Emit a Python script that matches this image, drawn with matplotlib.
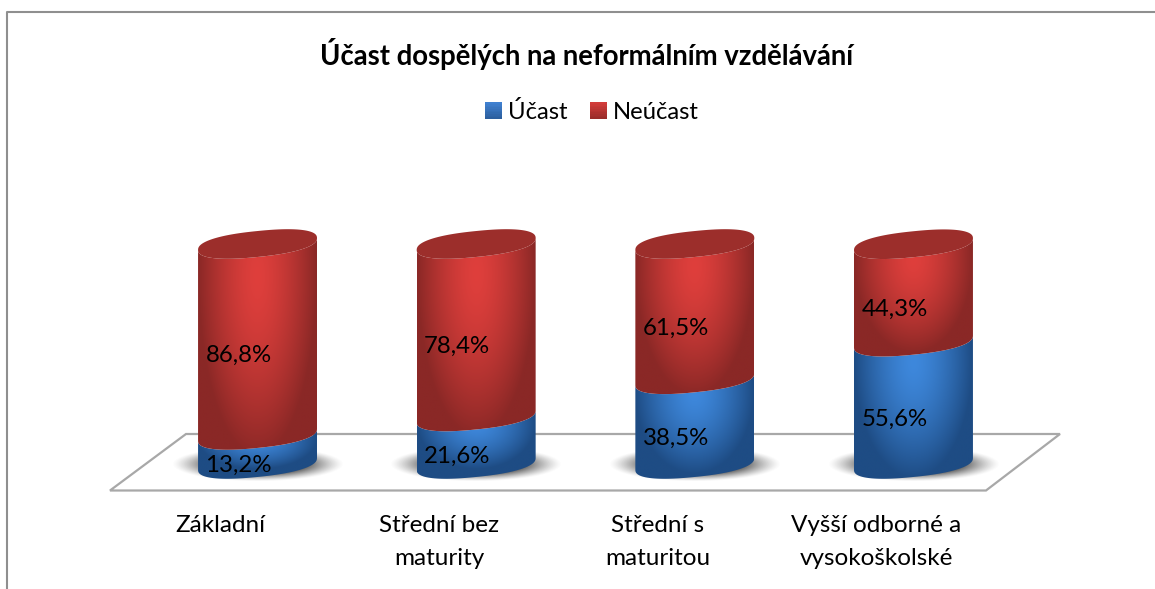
import numpy as np
import matplotlib
matplotlib.use('Agg')
import matplotlib.pyplot as plt
from matplotlib.lines import Line2D
from matplotlib.patches import Patch, Polygon, Rectangle
from matplotlib.legend_handler import HandlerBase

plt.rcParams['font.family'] = ['Lato', 'DejaVu Sans']

categories = ['Základní', 'Střední bez\nmaturity', 'Střední s\nmaturitou', 'Vyšší odborné a\nvysokoškolské']
ucast = [13.2, 21.6, 38.5, 55.6]
neucast = [86.8, 78.4, 61.5, 44.3]
series_names = ['Účast', 'Neúčast']
title = 'Účast dospělých na neformálním vzdělávání'

W, H = 1155, 589
RED = ('#DF3F3C', '#8A2826')
BLUE = ('#3E88DC', '#1E4C84')

fig = plt.figure(figsize=(W / 100, H / 100), dpi=100, facecolor='white')
# axes runs from value 0 to 100 and over the four category slots
ax = fig.add_axes([148.2 / W, 1 - 464 / H, 874.6 / W, 220 / H])
ax.set_xlim(-0.5, 3.5)
ax.set_ylim(0, 100)
ax.patch.set_visible(False)
for s in ax.spines.values():
    s.set_visible(False)

half_w = 0.272   # cylinder half width in category units
ell_b = 5.9      # ellipse height in value units
ell_s = 2.7      # tilt of the ellipse in value units


def fpx(x, y):
    return x / W, 1 - y / H


def rgb(c):
    return np.array(matplotlib.colors.to_rgb(c))


def ellipse(cx, level, t):
    # slightly squared off so the ends stay round after the tilt
    c, s = np.cos(t), np.sin(t)
    x = np.sign(c) * np.abs(c) ** 0.85
    y = np.sign(s) * np.abs(s) ** 0.85
    return cx + half_w * x, level + ell_s * x + ell_b * y


def lower_arc(cx, level, n=60):
    return ellipse(cx, level, np.linspace(np.pi, 2 * np.pi, n))


def shaded(cx, y0, y1, colors, outline):
    lo, hi = y0 - 12, y1 + 12
    xs = np.linspace(-1, 1, 160)
    ys = np.linspace(hi, lo, 300)
    u, yy = np.meshgrid(xs, ys)
    span = max(y1 - y0, 14)
    v = (yy - (y1 - 0.17 * span)) / (span * 0.95)
    d = np.clip(np.sqrt(u**2 + v**2), 0, 1) ** 1.5
    a, b = rgb(colors[0]), rgb(colors[1])
    img = a + (b - a) * d[..., None]
    im = ax.imshow(img, extent=(cx - half_w, cx + half_w, lo, hi), aspect='auto',
                   interpolation='bilinear', zorder=3)
    poly = Polygon(outline, closed=True, transform=ax.transData, fc='none', ec='none', clip_on=False)
    ax.add_patch(poly)
    # images fall back to the axes box, the cylinder has to stick out of it
    im.set_clip_box(fig.bbox)
    im.set_clip_path(poly)


def shadow(cx):
    xs = np.linspace(-1.35, 1.35, 200)
    ys = np.linspace(1.35, -1.35, 100)
    u, v = np.meshgrid(xs, ys)
    r = np.sqrt(u**2 + v**2)
    img = np.zeros(r.shape + (4,))
    img[..., :3] = 0.28
    img[..., 3] = 0.8 * np.clip((1.12 - r) / 0.45, 0, 1) ** 1.3
    ax.imshow(img, extent=(cx - 0.475, cx + 0.475, -9.5, 9.5), aspect='auto',
              interpolation='bilinear', zorder=2, clip_on=False)


# floor and frame
floor = Polygon([fpx(110, 490.5), fpx(186, 434), fpx(1060, 434), fpx(986, 490.5)], closed=True,
                transform=fig.transFigure, fc='white', ec='#a8a8a8', lw=1.6, zorder=1)
ax.add_patch(floor)
floor.set_clip_on(False)
fig.add_artist(Line2D([fpx(7, 0)[0], fpx(7, 0)[0], 1], [0, fpx(0, 11.5)[1], fpx(0, 11.5)[1]],
                      color='#8f8f8f', lw=1.5))

for i, (low, high) in enumerate(zip(ucast, neucast)):
    shadow(i)
    for y0, y1, cols in [(0, low, BLUE), (low, low + high, RED)]:
        xa, ya = lower_arc(i, y0)
        xb, yb = lower_arc(i, y1)
        shaded(i, y0, y1, cols, np.column_stack([np.r_[xa, xb[::-1]], np.r_[ya, yb[::-1]]]))
        ax.text(i - 0.087, (y0 + y1) / 2 - 7.4, f'{y1 - y0:.1f}%'.replace('.', ','),
                ha='center', va='center', fontsize=17.3, color='black', zorder=5)
    # top of the cylinder
    top = low + high
    cap = Polygon(np.column_stack(ellipse(i, top, np.linspace(0, 2 * np.pi, 160))),
                  closed=True, fc='#9C2E2B', ec='none', zorder=4, clip_on=False)
    ax.add_patch(cap)

ax.set_xticks(np.arange(4) - 0.169)
ax.set_xticklabels(categories, fontsize=17.5, linespacing=1.68, color='black')
ax.set_yticks([])
ax.tick_params(axis='x', length=0, pad=37)

fig.text(*fpx(587, 54), title, ha='center', va='center', fontsize=19.8, fontweight='bold', color='black')


class GradSwatch(HandlerBase):
    def create_artists(self, legend, orig, xd, yd, width, height, fontsize, trans):
        a, b = rgb(orig.get_facecolor()), rgb(orig.get_edgecolor())
        n = 10
        return [Rectangle((-xd, -yd + height * k / n), width, height / n + 0.3,
                          fc=a + (b - a) * (1 - k / (n - 1)), ec='none', transform=trans)
                for k in range(n)]


handles = [Patch(fc='#3F80D0', ec='#2C5F9E'), Patch(fc='#D23C3A', ec='#9A2C2A')]
fig.legend(handles, series_names, handler_map={Patch: GradSwatch()}, ncol=2, frameon=False,
           loc='center', bbox_to_anchor=fpx(592, 112), fontsize=17.2, handlelength=0.69, handleheight=0.68,
           handletextpad=0.25, columnspacing=0.96, borderpad=0)

fig.savefig('out.png', dpi=100)
